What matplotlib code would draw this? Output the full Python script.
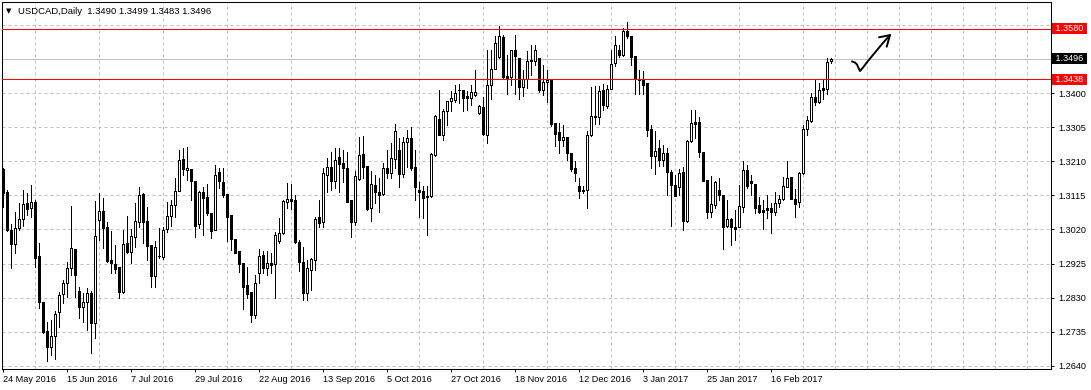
import matplotlib
matplotlib.use('Agg')
import matplotlib.pyplot as plt
import numpy as np
from matplotlib.transforms import blended_transform_factory, offset_copy

plt.rcParams['font.family'] = ['Liberation Sans', 'DejaVu Sans']

# ---------------- data (USDCAD daily) ----------------
opens = [
    1.3189, 1.3124, 1.3019, 1.2980, 1.3024, 1.3049, 1.3094, 1.3080, 1.3097, 1.2946,
    1.2818, 1.2737, 1.2693, 1.2723, 1.2790, 1.2840, 1.2871, 1.2913, 1.2966, 1.2849,
    1.2804, 1.2818, 1.2843, 1.2760, 1.3047, 1.3072, 1.3027, 1.2935, 1.2924, 1.2916,
    1.2846, 1.2982, 1.2957, 1.2999, 1.3041, 1.3119, 1.3044, 1.2977, 1.2890, 1.2946,
    1.2943, 1.3021, 1.3058, 1.3088, 1.3127, 1.3216, 1.3186, 1.3189, 1.3155, 1.3035,
    1.3124, 1.3111, 1.3066, 1.3019, 1.3180, 1.3152, 1.3119, 1.3060, 1.2994, 1.2960,
    1.2927, 1.2865, 1.2846, 1.2782, 1.2899, 1.2949, 1.2913, 1.2927, 1.2924, 1.2988,
    1.3010, 1.3097, 1.3105, 1.3102, 1.2985, 1.2929, 1.2843, 1.2908, 1.2935, 1.3055,
    1.3041, 1.3172, 1.3194, 1.3155, 1.3222, 1.3205, 1.3191, 1.3102, 1.3041, 1.3161,
    1.3230, 1.3197, 1.3080, 1.3144, 1.3124, 1.3119, 1.3191, 1.3177, 1.3216, 1.3242,
    1.3175, 1.3264, 1.3275, 1.3194, 1.3130, 1.3127, 1.3113, 1.3113, 1.3228, 1.3328,
    1.3284, 1.3350, 1.3378, 1.3381, 1.3409, 1.3409, 1.3392, 1.3386, 1.3395, 1.3345,
    1.3361, 1.3283, 1.3423, 1.3467, 1.3501, 1.3556, 1.3448, 1.3445, 1.3520, 1.3498,
    1.3417, 1.3439, 1.3492, 1.3489, 1.3498, 1.3409, 1.3431, 1.3437, 1.3317, 1.3292,
    1.3269, 1.3278, 1.3233, 1.3191, 1.3141, 1.3130, 1.3130, 1.3283, 1.3336, 1.3333,
    1.3409, 1.3364, 1.3412, 1.3484, 1.3520, 1.3506, 1.3573, 1.3559, 1.3503, 1.3439,
    1.3439, 1.3428, 1.3300, 1.3225, 1.3247, 1.3214, 1.3233, 1.3180, 1.3144, 1.3138,
    1.3180, 1.3044, 1.3267, 1.3320, 1.3320, 1.3236, 1.3158, 1.3069, 1.3088, 1.3130,
    1.3116, 1.3030, 1.3049, 1.3027, 1.3027, 1.3083, 1.3186, 1.3155, 1.3147, 1.3088,
    1.3074, 1.3080, 1.3080, 1.3069, 1.3094, 1.3105, 1.3138, 1.3166, 1.3105, 1.3097,
    1.3177, 1.3300, 1.3322, 1.3389, 1.3375, 1.3414, 1.3412, 1.3490,
]
highs = [
    1.3191, 1.3130, 1.3035, 1.3069, 1.3094, 1.3130, 1.3122, 1.3144, 1.3102, 1.2982,
    1.2818, 1.2762, 1.2768, 1.2793, 1.2846, 1.2879, 1.2929, 1.3085, 1.2966, 1.2860,
    1.2843, 1.2857, 1.2849, 1.3099, 1.3122, 1.3108, 1.3041, 1.3016, 1.2977, 1.2916,
    1.3019, 1.3058, 1.3021, 1.3094, 1.3138, 1.3122, 1.3083, 1.2977, 1.2988, 1.3024,
    1.3027, 1.3097, 1.3102, 1.3164, 1.3242, 1.3247, 1.3250, 1.3189, 1.3155, 1.3127,
    1.3138, 1.3147, 1.3066, 1.3200, 1.3191, 1.3191, 1.3119, 1.3060, 1.2994, 1.2960,
    1.2927, 1.2916, 1.2846, 1.2893, 1.2966, 1.2960, 1.2960, 1.2955, 1.3013, 1.3052,
    1.3102, 1.3150, 1.3147, 1.3116, 1.2991, 1.2971, 1.2935, 1.2941, 1.3055, 1.3102,
    1.3191, 1.3219, 1.3236, 1.3247, 1.3247, 1.3242, 1.3236, 1.3102, 1.3183, 1.3278,
    1.3281, 1.3197, 1.3183, 1.3172, 1.3164, 1.3205, 1.3242, 1.3261, 1.3314, 1.3275,
    1.3278, 1.3297, 1.3306, 1.3242, 1.3152, 1.3141, 1.3141, 1.3233, 1.3339, 1.3408,
    1.3356, 1.3378, 1.3406, 1.3423, 1.3425, 1.3409, 1.3406, 1.3423, 1.3464, 1.3367,
    1.3389, 1.3520, 1.3520, 1.3559, 1.3587, 1.3562, 1.3506, 1.3520, 1.3562, 1.3498,
    1.3464, 1.3517, 1.3534, 1.3534, 1.3498, 1.3478, 1.3464, 1.3437, 1.3317, 1.3317,
    1.3311, 1.3278, 1.3233, 1.3211, 1.3164, 1.3141, 1.3294, 1.3417, 1.3420, 1.3420,
    1.3425, 1.3423, 1.3520, 1.3559, 1.3534, 1.3581, 1.3598, 1.3559, 1.3503, 1.3464,
    1.3462, 1.3428, 1.3311, 1.3294, 1.3269, 1.3256, 1.3247, 1.3186, 1.3172, 1.3189,
    1.3194, 1.3269, 1.3353, 1.3353, 1.3333, 1.3236, 1.3158, 1.3169, 1.3155, 1.3164,
    1.3116, 1.3102, 1.3052, 1.3074, 1.3144, 1.3211, 1.3200, 1.3172, 1.3147, 1.3111,
    1.3102, 1.3116, 1.3094, 1.3124, 1.3116, 1.3166, 1.3211, 1.3166, 1.3133, 1.3180,
    1.3311, 1.3336, 1.3400, 1.3437, 1.3428, 1.3437, 1.3498, 1.3499,
]
lows = [
    1.3083, 1.3016, 1.2913, 1.2955, 1.3019, 1.3030, 1.3060, 1.3055, 1.2916, 1.2801,
    1.2732, 1.2654, 1.2670, 1.2659, 1.2748, 1.2815, 1.2832, 1.2893, 1.2832, 1.2773,
    1.2762, 1.2740, 1.2676, 1.2718, 1.2991, 1.2969, 1.2929, 1.2899, 1.2899, 1.2829,
    1.2843, 1.2955, 1.2927, 1.2971, 1.3027, 1.2982, 1.2935, 1.2860, 1.2860, 1.2941,
    1.2938, 1.3013, 1.3030, 1.3055, 1.3127, 1.3172, 1.3158, 1.3102, 1.2999, 1.3024,
    1.3005, 1.3060, 1.2996, 1.3019, 1.3136, 1.3111, 1.2988, 1.2963, 1.2955, 1.2902,
    1.2799, 1.2829, 1.2762, 1.2773, 1.2871, 1.2899, 1.2893, 1.2899, 1.2829, 1.2982,
    1.3007, 1.3080, 1.3077, 1.2982, 1.2904, 1.2824, 1.2824, 1.2851, 1.2907, 1.3027,
    1.3027, 1.3124, 1.3130, 1.3136, 1.3124, 1.3152, 1.3097, 1.2999, 1.3032, 1.3158,
    1.3164, 1.3074, 1.3044, 1.3094, 1.3069, 1.3116, 1.3164, 1.3164, 1.3191, 1.3138,
    1.3166, 1.3194, 1.3186, 1.3102, 1.3055, 1.3052, 1.3005, 1.3111, 1.3225, 1.3282,
    1.3269, 1.3311, 1.3350, 1.3375, 1.3372, 1.3350, 1.3353, 1.3367, 1.3392, 1.3342,
    1.3283, 1.3261, 1.3384, 1.3467, 1.3498, 1.3442, 1.3398, 1.3423, 1.3398, 1.3384,
    1.3392, 1.3414, 1.3450, 1.3478, 1.3403, 1.3395, 1.3375, 1.3308, 1.3253, 1.3233,
    1.3253, 1.3214, 1.3183, 1.3155, 1.3108, 1.3122, 1.3080, 1.3281, 1.3314, 1.3314,
    1.3353, 1.3359, 1.3412, 1.3476, 1.3501, 1.3503, 1.3553, 1.3478, 1.3398, 1.3398,
    1.3398, 1.3281, 1.3191, 1.3175, 1.3197, 1.3197, 1.3116, 1.3030, 1.3113, 1.3116,
    1.3019, 1.3041, 1.3264, 1.3275, 1.3222, 1.3155, 1.3052, 1.3055, 1.3080, 1.3102,
    1.2966, 1.3027, 1.2977, 1.2991, 1.3027, 1.3069, 1.3136, 1.3116, 1.3066, 1.3066,
    1.3021, 1.3052, 1.3010, 1.3060, 1.3083, 1.3102, 1.3138, 1.3105, 1.3055, 1.3083,
    1.3175, 1.3283, 1.3320, 1.3367, 1.3372, 1.3384, 1.3398, 1.3483,
]
closes = [
    1.3122, 1.3019, 1.2980, 1.3024, 1.3049, 1.3091, 1.3077, 1.3097, 1.2941, 1.2818,
    1.2734, 1.2693, 1.2723, 1.2785, 1.2838, 1.2871, 1.2913, 1.2969, 1.2893, 1.2804,
    1.2818, 1.2843, 1.2760, 1.3002, 1.3072, 1.3024, 1.2932, 1.2927, 1.2910, 1.2846,
    1.2980, 1.2957, 1.3002, 1.3044, 1.3116, 1.3041, 1.2974, 1.2890, 1.2971, 1.2947,
    1.3019, 1.3058, 1.3088, 1.3127, 1.3214, 1.3189, 1.3191, 1.3155, 1.3030, 1.3124,
    1.3108, 1.3066, 1.3016, 1.3172, 1.3155, 1.3116, 1.3055, 1.2994, 1.2955, 1.2924,
    1.2860, 1.2840, 1.2782, 1.2871, 1.2946, 1.2913, 1.2927, 1.2921, 1.3005, 1.3010,
    1.3099, 1.3105, 1.3099, 1.2985, 1.2929, 1.2843, 1.2913, 1.2938, 1.3049, 1.3038,
    1.3177, 1.3194, 1.3155, 1.3214, 1.3203, 1.3191, 1.3097, 1.3041, 1.3169, 1.3228,
    1.3194, 1.3077, 1.3147, 1.3124, 1.3116, 1.3191, 1.3177, 1.3219, 1.3294, 1.3175,
    1.3264, 1.3275, 1.3191, 1.3138, 1.3124, 1.3108, 1.3111, 1.3230, 1.3336, 1.3284,
    1.3350, 1.3378, 1.3386, 1.3400, 1.3408, 1.3386, 1.3386, 1.3403, 1.3403, 1.3364,
    1.3286, 1.3423, 1.3467, 1.3540, 1.3559, 1.3445, 1.3442, 1.3520, 1.3503, 1.3417,
    1.3439, 1.3489, 1.3489, 1.3520, 1.3409, 1.3431, 1.3437, 1.3314, 1.3286, 1.3269,
    1.3278, 1.3233, 1.3189, 1.3177, 1.3127, 1.3128, 1.3283, 1.3336, 1.3333, 1.3406,
    1.3367, 1.3412, 1.3481, 1.3534, 1.3506, 1.3573, 1.3559, 1.3501, 1.3439, 1.3437,
    1.3423, 1.3297, 1.3225, 1.3239, 1.3214, 1.3233, 1.3180, 1.3144, 1.3113, 1.3177,
    1.3044, 1.3267, 1.3317, 1.3314, 1.3236, 1.3155, 1.3069, 1.3091, 1.3152, 1.3116,
    1.3027, 1.3049, 1.3027, 1.3021, 1.3085, 1.3186, 1.3141, 1.3150, 1.3080, 1.3069,
    1.3069, 1.3074, 1.3069, 1.3094, 1.3105, 1.3141, 1.3164, 1.3105, 1.3091, 1.3177,
    1.3300, 1.3325, 1.3389, 1.3375, 1.3409, 1.3409, 1.3487, 1.3496,
]
date_labels = ["24 May 2016", "15 Jun 2016", "7 Jul 2016", "29 Jul 2016", "22 Aug 2016",
               "13 Sep 2016", "5 Oct 2016", "27 Oct 2016", "18 Nov 2016", "12 Dec 2016",
               "3 Jan 2017", "25 Jan 2017", "16 Feb 2017"]
label_bars = [0, 16, 32, 48, 64, 80, 96, 112, 128, 144, 160, 176, 192]
price_ticks = [1.2640, 1.2735, 1.2830, 1.2925, 1.3020, 1.3115, 1.3210, 1.3305, 1.3400, 1.3495, 1.3590]
resistance = 1.3580
support = 1.3438
bid = 1.3496
symbol = "USDCAD,Daily"
last_ohlc = [1.3490, 1.3499, 1.3483, 1.3496]

# ---------------- figure ----------------
W, H = 1091, 390
fig = plt.figure(figsize=(W / 100, H / 100), dpi=100)
fig.patch.set_facecolor('white')
ax = fig.add_axes([2 / W, 21 / H, 1049 / W, 367 / H])
ax.set_facecolor('white')

o = np.array(opens); h = np.array(highs); l = np.array(lows); c = np.array(closes)
x = np.arange(len(o))
up = c >= o

ax.vlines(x, l, h, color='black', lw=0.6, antialiased=False, zorder=3)
body_bottom = np.minimum(o, c)
body_h = np.maximum(np.abs(c - o), 0.00003)
ax.bar(x, body_h, bottom=body_bottom, width=0.55,
       color=np.where(up, 'white', 'black'), edgecolor='black',
       linewidth=0.6, antialiased=False, zorder=4)

ax.set_xlim(-0.25, 262)
ax.set_ylim(1.2631, 1.3654)

# grid
grid_kw = dict(color='#c0c0c0', lw=0.72, linestyle=(0, (3, 3)))
ax.set_xticks(np.arange(0, 263, 8), minor=True)
ax.grid(which='minor', axis='x', **grid_kw)
ax.set_yticks(price_ticks)
ax.grid(which='major', axis='y', **grid_kw)
ax.set_axisbelow(True)

# level lines
ax.axhline(bid, color='#c0c0c0', lw=0.6, zorder=2, antialiased=False)
ax.axhline(resistance, color='#ff0000', lw=0.6, zorder=5, antialiased=False)
ax.axhline(support, color='#ff0000', lw=0.6, zorder=5, antialiased=False)

# axes / ticks
for sp in ax.spines.values():
    sp.set_color('black'); sp.set_linewidth(0.75)
ax.yaxis.tick_right()
ax.set_yticklabels(['' if abs(p - 1.3495) < 1e-6 or abs(p - 1.3590) < 1e-6 else f'{p:.4f}'
                    for p in price_ticks])
ax.tick_params(axis='y', which='major', direction='out', length=2.5, width=0.72,
               labelsize=6.6, pad=2.5, colors='black')
ax.set_xticks(label_bars)
ax.set_xticklabels(date_labels)
for t in ax.get_xticklabels():
    t.set_ha('left')
ax.tick_params(axis='x', which='major', direction='out', length=2.5, width=0.72,
               labelsize=6.6, pad=1.5)
ax.tick_params(axis='x', which='minor', length=0)

# price tags on the right axis
trans = offset_copy(blended_transform_factory(ax.transAxes, ax.transData), fig=fig, x=2, y=0, units='dots')
for val, col in [(resistance, '#ff0000'), (support, '#ff0000'), (bid, 'black')]:
    ax.text(1.0, val, f' {val:.4f} ', transform=trans, ha='left', va='center',
            color='white', fontsize=6.6, clip_on=False, zorder=10,
            bbox=dict(boxstyle='square,pad=0.1', fc=col, ec='none'))

# header
fig.text(6 / W, 1 - 11 / H, '\u25bc', fontsize=5, va='center', ha='left',
         family=['DejaVu Sans'])
fig.text(18 / W, 1 - 11.5 / H, symbol + '  ' + ' '.join(f'{v:.4f}' for v in last_ohlc),
         fontsize=6.8, va='center', ha='left', color='black')

# hand-drawn arrow
path = [(0.81030, 0.83787), (0.81316, 0.83515), (0.81506, 0.82970), (0.81649, 0.82016),
        (0.81792, 0.81199), (0.82078, 0.82153), (0.82555, 0.83924), (0.83222, 0.86240),
        (0.83890, 0.88556), (0.84652, 0.90981)]
px_, py_ = zip(*path)
ax.plot(px_, py_, transform=ax.transAxes, color='black', lw=1.4, solid_capstyle='round',
        solid_joinstyle='round', zorder=8)
ax.plot([0.83604, 0.84652, 0.84337], [0.90381, 0.90981, 0.87820], transform=ax.transAxes,
        color='black', lw=1.4, solid_capstyle='round', solid_joinstyle='round', zorder=8)

fig.savefig('out.png', dpi=100, facecolor='white')
